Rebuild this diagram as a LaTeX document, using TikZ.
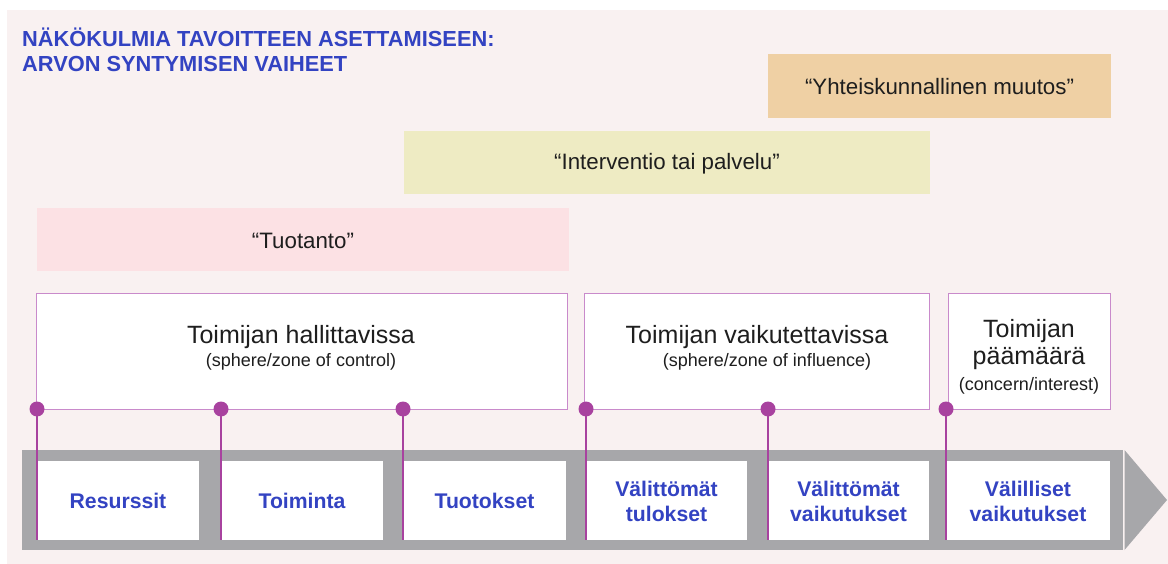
\documentclass[tikz,border=0pt]{standalone}
\usepackage{fontspec}
\setmainfont{Liberation Sans}
\definecolor{bgc}{HTML}{F9F1F1}
\definecolor{peach}{HTML}{EFD0A4}
\definecolor{paleyel}{HTML}{EEEBC3}
\definecolor{palepink}{HTML}{FCE1E4}
\definecolor{bandgray}{HTML}{A7A7AA}
\definecolor{tblue}{HTML}{3343C2}
\definecolor{dotpurple}{HTML}{A8429F}
\definecolor{boxpurple}{HTML}{C98ACB}
\definecolor{txt}{HTML}{1E1E1E}
\begin{document}
\begin{tikzpicture}[x=1pt,y=-1pt,
  quotebox/.style={anchor=north west, inner sep=0pt, outer sep=0pt},
  quotetxt/.style={text=txt, inner sep=0pt, font=\fontsize{22.3}{26}\selectfont},
  zonebox/.style={draw=boxpurple, line width=1pt, fill=white, anchor=north west,
    inner sep=0pt, outer sep=0pt, minimum height=115pt},
  bigtxt/.style={text=txt, inner sep=0pt, font=\fontsize{25}{29}\selectfont},
  smalltxt/.style={text=txt, inner sep=0pt, font=\fontsize{18}{21}\selectfont},
  stagebox/.style={fill=white, anchor=north west, inner sep=0pt, outer sep=0pt,
    minimum height=79pt},
  stagetxt/.style={text=tblue, inner sep=0pt, align=center,
    font=\bfseries\fontsize{21.2}{25}\selectfont},
  dotnode/.style={circle, fill=dotpurple, inner sep=0pt, minimum size=15pt},
  pline/.style={draw=dotpurple, line width=1.6pt}]
\useasboundingbox (0,0) rectangle (1168,564);
\fill[bgc] (7,10) rectangle (1168,564);
% title
\node[anchor=west, align=left, inner sep=0pt, text=tblue,
  font=\bfseries\fontsize{21.8}{25}\selectfont] (title) at (22,49.5)
  {NÄKÖKULMIA TAVOITTEEN ASETTAMISEEN:\\ARVON SYNTYMISEN VAIHEET};
% value-creation phases
\node[quotebox, fill=peach, minimum width=343pt, minimum height=64pt] (yht) at (768,54) {};
\node[quotetxt] (yhtt) at ([yshift=-1pt]yht.center) {“Yhteiskunnallinen muutos”};
\node[quotebox, fill=paleyel, minimum width=526pt, minimum height=63pt] (int) at (404,131) {};
\node[quotetxt] (intt) at ([yshift=-1pt]int.center) {“Interventio tai palvelu”};
\node[quotebox, fill=palepink, minimum width=532pt, minimum height=63pt] (tuo) at (37,208) {};
\node[quotetxt] (tuot) at ([yshift=-1pt]tuo.center) {“Tuotanto”};
% zones
\node[zonebox, minimum width=531pt] (z1) at (36,294) {};
\node[bigtxt] (z1a) at (301,337) {Toimijan hallittavissa};
\node[smalltxt] (z1b) at (301,362) {(sphere/zone of control)};
\node[zonebox, minimum width=345pt] (z2) at (584,294) {};
\node[bigtxt] (z2a) at (757,337) {Toimijan vaikutettavissa};
\node[smalltxt] (z2b) at (767,362) {(sphere/zone of influence)};
\node[zonebox, minimum width=162pt] (z3) at (948,294) {};
\node[bigtxt] (z3a) at (1029,331) {Toimijan};
\node[bigtxt] (z3b) at (1029,359) {päämäärä};
\node[smalltxt] (z3c) at (1029,386) {(concern/interest)};
% band arrow
\fill[bandgray] (22,450) rectangle (1123,550);
\fill[bandgray] (1124.5,450) -- (1167,500) -- (1124.5,550) -- cycle;
% stages
\node[stagebox, minimum width=162pt] (b1) at (37,461) {};
\node[stagetxt] at (b1.center) {Resurssit};
\node[stagebox, minimum width=162pt] (b2) at (221,461) {};
\node[stagetxt] at (b2.center) {Toiminta};
\node[stagebox, minimum width=163pt] (b3) at (403,461) {};
\node[stagetxt] at (b3.center) {Tuotokset};
\node[stagebox, minimum width=161pt] (b4) at (586,461) {};
\node[stagetxt] at ([yshift=-0.5pt]b4.center) {Välittömät\\tulokset};
\node[stagebox, minimum width=161pt] (b5) at (768,461) {};
\node[stagetxt] at ([yshift=-0.5pt]b5.center) {Välittömät\\vaikutukset};
\node[stagebox, minimum width=164pt] (b6) at (946,461) {};
\node[stagetxt] at ([yshift=-0.5pt]b6.center) {Välilliset\\vaikutukset};
% dots and connectors
\node[dotnode] (d1) at (37,409) {};
\node[dotnode] (d2) at (221,409) {};
\node[dotnode] (d3) at (403,409) {};
\node[dotnode] (d4) at (586,409) {};
\node[dotnode] (d5) at (768,409) {};
\node[dotnode] (d6) at (946,409) {};
\foreach \i in {1,...,6} {\draw[pline] (d\i.center) -- (b\i.south west);}
\end{tikzpicture}
\end{document}
